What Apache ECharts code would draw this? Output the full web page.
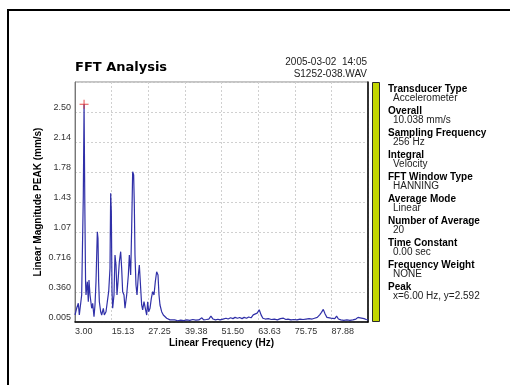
<!DOCTYPE html>
<html><head><meta charset="utf-8">
<script src="https://cdn.jsdelivr.net/npm/echarts@6/dist/echarts.min.js"></script>
<style>html,body{margin:0;padding:0;background:#fff}#c{width:510px;height:385px}</style>
</head><body><div id="c"></div><script>
// ---- data ----
const freqs = [3.00,3.55,4.10,4.43,4.88,5.21,5.50,5.75,6.00,6.25,6.50,6.64,7.08,7.41,7.63,7.97,8.52,8.85,9.29,9.62,9.95,10.39,10.61,10.83,11.06,11.50,11.83,12.38,12.71,13.26,13.70,14.15,14.59,14.81,15.03,15.25,15.47,15.91,16.24,16.57,16.90,17.24,17.68,18.12,18.45,18.78,19.22,19.55,20.11,20.66,20.99,21.43,21.76,22.09,22.42,22.64,22.86,23.19,23.53,23.97,24.30,24.74,25.07,25.40,25.84,26.28,26.73,27.06,27.39,27.83,28.27,28.71,29.15,29.59,30.03,30.48,30.81,31.14,31.69,32.24,32.80,33.35,34.45,
  35,36,37,38,39,40,41,42,43,44,45,45.6,46.5,47.3,48,48.7,49.5,50.3,51,52,53,53.7,54.5,55.3,56,56.8,57.5,58.3,59,59.8,60.5,61.3,62,62.6,63.3,64,64.6,65.2,66,67,68,69,70,71,72,72.8,73.5,74.5,75.5,76.5,77.5,78.5,79.5,80.5,81.5,82.3,83.2,84,84.6,85.2,85.8,86.4,87,87.7,88.3,89,89.6,90.2,91,92,93,94,95,96,96.7,97.4,98,98.7,99.4,100];
const mags = [0.088,0.168,0.227,0.088,0.068,0.326,0.330,1.500,2.592,1.400,0.484,0.326,0.484,0.246,0.504,0.326,0.168,0.227,0.068,0.207,0.484,1.077,0.999,0.484,0.246,0.127,0.088,0.168,0.088,0.127,0.246,0.365,0.643,1.533,1.315,0.365,0.168,0.326,0.801,0.682,0.326,0.484,0.721,0.840,0.643,0.365,0.326,0.168,0.326,0.563,0.801,0.563,1.118,1.790,1.751,1.394,0.801,0.444,0.326,0.563,0.682,0.405,0.207,0.148,0.246,0.168,0.088,0.246,0.127,0.168,0.286,0.365,0.326,0.484,0.602,0.563,0.326,0.207,0.127,0.088,0.068,0.049,0.030,
  0.025,0.030,0.020,0.028,0.022,0.030,0.025,0.035,0.028,0.030,0.055,0.030,0.035,0.040,0.075,0.040,0.030,0.038,0.030,0.040,0.050,0.040,0.055,0.045,0.060,0.050,0.058,0.045,0.060,0.050,0.065,0.055,0.090,0.070,0.110,0.150,0.090,0.050,0.040,0.045,0.035,0.040,0.030,0.045,0.050,0.035,0.040,0.030,0.035,0.030,0.040,0.035,0.040,0.045,0.040,0.050,0.060,0.090,0.120,0.155,0.100,0.060,0.070,0.050,0.055,0.045,0.075,0.040,0.030,0.025,0.030,0.025,0.030,0.040,0.060,0.055,0.040,0.045,0.035,0.030];
const peakFreq = 6.00;
const peakMag = 2.592;
const xTickLabels = ['3.00','15.13','27.25','39.38','51.50','63.63','75.75','87.88'];
const yTickLabels = ['0.005','0.360','0.716','1.07','1.43','1.78','2.14','2.50'];
const panelLabels = ['Transducer Type','Overall','Sampling Frequency','Integral','FFT Window Type','Average Mode','Number of Average','Time Constant','Frequency Weight','Peak'];
const panelValues = ['Accelerometer','10.038 mm/s','256 Hz','Velocity','HANNING','Linear','20','0.00 sec','NONE','x=6.00 Hz, y=2.592'];
const titleText = 'FFT Analysis';
const dateText = '2005-03-02  14:05';
const fileText = 'S1252-038.WAV';

// ---- axis scale setup ----
const xMin = 3, xMax = 100, xStep = 12.125;
const yMin = 0.005, yStep = 0.35625, yDiv = 8;

const lineData = freqs.map((f, i) => [f - xMin, mags[i] - yMin]);
const peakData = [[peakFreq - xMin, peakMag - yMin]];

const FONT = '"Liberation Sans", Arial, sans-serif';
const graphics = [
  {type:'rect', shape:{x:8, y:10, width:530, height:420}, style:{fill:'none', stroke:'#000', lineWidth:2}, z:100},
  {type:'rect', shape:{x:372.5, y:82.5, width:7, height:239}, style:{fill:'#c2d600', stroke:'#2a2a2a', lineWidth:1}},
  {type:'text', style:{text:dateText, x:367, y:62, align:'right', verticalAlign:'middle', font:'10px ' + FONT, fill:'#222'}},
  {type:'text', style:{text:fileText, x:367, y:74, align:'right', verticalAlign:'middle', font:'10px ' + FONT, fill:'#222'}}
];
panelLabels.forEach((t, i) => {
  graphics.push({type:'text', style:{text:t, x:388, y:89.5 + 22*i, verticalAlign:'middle', font:'bold 10px ' + FONT, fill:'#000'}});
  graphics.push({type:'text', style:{text:panelValues[i], x:393, y:98.5 + 22*i, verticalAlign:'middle', font:'10px ' + FONT, fill:'#222'}});
});

const chart = echarts.init(document.getElementById('c'));
chart.setOption({
  animation: false,
  backgroundColor: '#fff',
  title: {text: titleText, left: 75, top: 61, padding: 0,
    textStyle: {fontFamily: '"DejaVu Sans", Verdana, sans-serif', fontWeight: 'bold', fontSize: 13, color: '#000'}},
  grid: {left: 75, top: 82, width: 293, height: 240, show: true, borderColor: '#888', borderWidth: 1, backgroundColor: '#fff'},
  xAxis: {
    type: 'value', min: 0, max: xMax - xMin, interval: xStep,
    name: 'Linear Frequency (Hz)', nameLocation: 'middle', nameGap: 16, nameMoveOverlap: false,
    nameTextStyle: {fontFamily: FONT, fontWeight: 'bold', fontSize: 10, color: '#000'},
    axisLine: {show: true, lineStyle: {color: '#000', width: 1.5}},
    axisTick: {show: false},
    axisLabel: {show: true, showMinLabel: true, showMaxLabel: false, align: 'left', margin: 5,
      fontFamily: FONT, fontSize: 9, color: '#333',
      formatter: v => { const i = Math.round(v / xStep); return i < xTickLabels.length ? xTickLabels[i] : ''; }},
    splitLine: {show: true, lineStyle: {color: '#d0d0d0', type: [2, 2], width: 1}}
  },
  yAxis: [{
    type: 'value', min: 0, max: yStep * yDiv, interval: yStep,
    name: 'Linear Magnitude PEAK (mm/s)', nameLocation: 'middle', nameGap: 32, nameMoveOverlap: false,
    nameTextStyle: {fontFamily: FONT, fontWeight: 'bold', fontSize: 10, color: '#000'},
    axisLine: {show: true, lineStyle: {color: '#777', width: 1}},
    axisTick: {show: false},
    axisLabel: {show: true, showMinLabel: true, showMaxLabel: false, verticalAlign: 'bottom', margin: 4,
      fontFamily: FONT, fontSize: 9, color: '#333',
      formatter: v => { const i = Math.round(v / yStep); return i < yTickLabels.length ? yTickLabels[i] : ''; }},
    splitLine: {show: true, lineStyle: {color: '#d0d0d0', type: [2, 2], width: 1}}
  }, {
    type: 'value', position: 'right', min: 0, max: yStep * yDiv, interval: yStep,
    axisLine: {show: true, lineStyle: {color: '#000', width: 1.5}},
    axisTick: {show: false}, axisLabel: {show: false}, splitLine: {show: false}
  }],
  series: [{
    type: 'line', data: lineData, showSymbol: false, symbol: 'none',
    lineStyle: {color: '#3030a8', width: 1.2}, z: 3
  }, {
    type: 'scatter', data: peakData, symbol: 'path://M4,0h1v9h-1z M0,4h9v1h-9z', symbolSize: 9,
    itemStyle: {color: '#e02020'}, z: 4
  }],
  graphic: graphics
});
</script></body></html>
